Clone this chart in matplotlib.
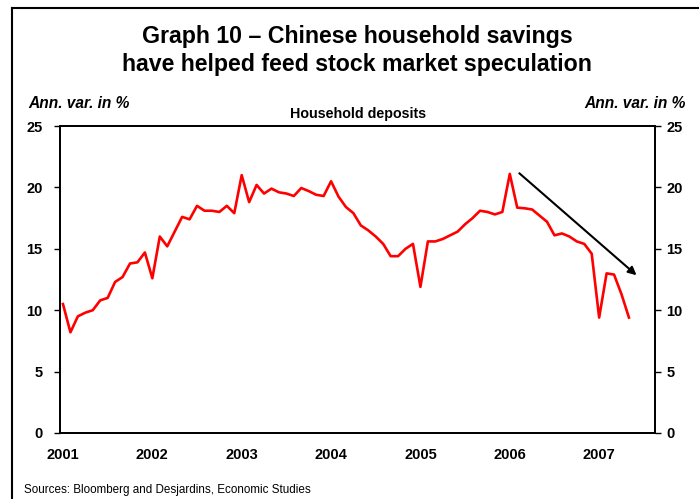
import numpy as np
import matplotlib.pyplot as plt
from matplotlib.lines import Line2D

plt.rcParams['font.family'] = ['Liberation Sans', 'DejaVu Sans']

# monthly annual variation of household deposits, Jan 2001 -> May 2007
deposits = [10.5, 8.2, 9.5, 9.8, 10.0, 10.8, 11.0, 12.3, 12.7, 13.8, 13.9, 14.7,
            12.6, 16.0, 15.2, 16.4, 17.6, 17.4, 18.5, 18.1, 18.1, 18.0, 18.5, 17.9,
            21.0, 18.8, 20.2, 19.5, 19.9, 19.6, 19.5, 19.3, 19.95, 19.7, 19.4, 19.3,
            20.5, 19.25, 18.4, 17.9, 16.9, 16.5, 16.0, 15.4, 14.4, 14.4, 15.0, 15.4,
            11.9, 15.6, 15.6, 15.8, 16.1, 16.4, 17.0, 17.5, 18.1, 18.0, 17.8, 18.0,
            21.1, 18.35, 18.3, 18.2, 17.7, 17.2, 16.1, 16.25, 16.0, 15.6, 15.4, 14.6,
            9.4, 13.0, 12.9, 11.3, 9.4]
years = ['2001', '2002', '2003', '2004', '2005', '2006', '2007']
yticks = [0, 5, 10, 15, 20, 25]

months = np.arange(len(deposits))

fig = plt.figure(figsize=(6.99, 4.99), dpi=100)
ax = fig.add_axes([60/699, 66/499, 595/699, 307/499])

ax.plot(months, deposits, color='#ff0000', lw=1.9)
ax.set_xlim(-0.4, 79.5)
ax.set_ylim(0, 25)

ax.set_xticks(np.arange(len(years)) * 12)
ax.set_xticklabels(years, fontsize=10.5, fontweight='bold')
ax.tick_params(axis='x', length=0, pad=11)
ax.set_yticks(yticks)
ax.set_yticklabels([str(v) for v in yticks], fontsize=10.5, fontweight='bold')
ax.tick_params(axis='y', direction='out', length=4, width=1, pad=8.5)
for s in ax.spines.values():
    s.set_linewidth(1.3)

# right labels sit closer to the axis
ax2 = ax.twinx()
ax2.set_ylim(0, 25)
ax2.set_yticks(yticks)
ax2.set_yticklabels([str(v) for v in yticks], fontsize=10.5, fontweight='bold')
ax2.tick_params(axis='y', direction='out', length=4, width=1, pad=4)
for s in ax2.spines.values():
    s.set_linewidth(1.3)

# trend arrow
ax.annotate('', xy=(77.3, 12.7), xytext=(61.0, 21.3),
            arrowprops=dict(arrowstyle='-|>', color='black', lw=1.5,
                            mutation_scale=12))

fig.text(357/699, 1 - 37/499, 'Graph 10 \u2013 Chinese household savings',
         ha='center', va='center', fontsize=16.7, fontweight='bold')
fig.text(357/699, 1 - 64/499, 'have helped feed stock market speculation',
         ha='center', va='center', fontsize=16.7, fontweight='bold')
fig.text(28/699, 1 - 103/499, 'Ann. var. in %', ha='left', va='center',
         fontsize=11.2, fontweight='bold', style='italic')
fig.text(686/699, 1 - 103/499, 'Ann. var. in %', ha='right', va='center',
         fontsize=11.2, fontweight='bold', style='italic')
fig.text(358/699, 1 - 114/499, 'Household deposits', ha='center', va='center',
         fontsize=10.3, fontweight='bold')
fig.text(24/699, 1 - 490/499, 'Sources: Bloomberg and Desjardins, Economic Studies',
         ha='left', va='center', fontsize=8.4)

# outer frame (left and top edges)
fig.add_artist(Line2D([11.5/699, 11.5/699], [0, 1 - 8/499], color='black', lw=1.5))
fig.add_artist(Line2D([11.5/699, 1], [1 - 8/499, 1 - 8/499], color='black', lw=1.5))

fig.savefig('out.png', dpi=100)
